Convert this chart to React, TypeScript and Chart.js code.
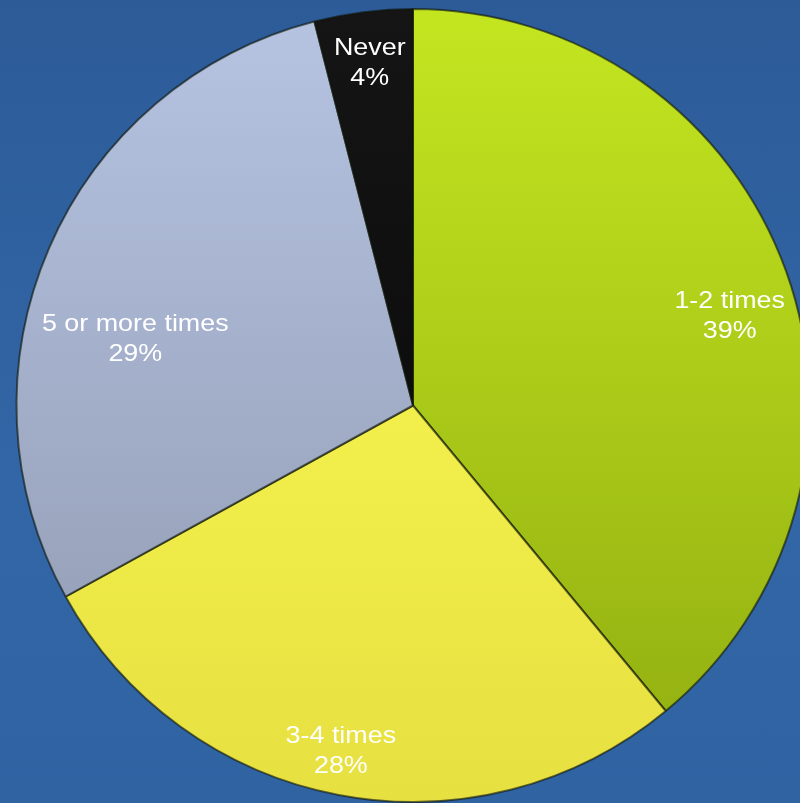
import React, { useEffect, useRef } from "react";
import { Chart, registerables } from "chart.js";

Chart.register(...registerables);

const categories = ["1-2 times", "3-4 times", "5 or more times", "Never"];
const values = [39, 28, 29, 4];
const percentLabels = ["39%", "28%", "29%", "4%"];

const gradStops: [string, string][] = [
  ["#c4e620", "#8fac10"],
  ["#ffff58", "#e6e040"],
  ["#b6c4e2", "#8e97ae"],
  ["#151515", "#050505"],
];
const labelAngleOffsetDeg = [4, 1, -10, 0];
const labelRadiusFrac = [0.83, 0.89, 0.72, 0.87];

const labelPlugin = {
  id: "sliceLabels",
  afterDatasetsDraw(chart: any) {
    const ctx = chart.ctx;
    const meta = chart.getDatasetMeta(0);
    meta.data.forEach((arc: any, i: number) => {
      const p = arc.getProps(["x", "y", "startAngle", "endAngle", "outerRadius"], true);
      const mid = (p.startAngle + p.endAngle) / 2 + (labelAngleOffsetDeg[i] * Math.PI) / 180;
      const r = p.outerRadius * labelRadiusFrac[i];
      const x = p.x + Math.cos(mid) * r;
      const y = p.y + Math.sin(mid) * r;
      ctx.save();
      ctx.translate(x, y);
      ctx.scale(1.12, 1);
      ctx.fillStyle = "#ffffff";
      ctx.textAlign = "center";
      ctx.textBaseline = "middle";
      ctx.font = '24px "Liberation Sans", Arial, sans-serif';
      ctx.fillText(categories[i], 0, -15);
      ctx.fillText(percentLabels[i], 0, 15);
      ctx.restore();
    });
  },
};

export default function App() {
  const ref = useRef<HTMLCanvasElement | null>(null);
  useEffect(() => {
    document.body.style.margin = "0";
    const canvas = ref.current!;
    const chart = new Chart(canvas, {
      type: "pie",
      data: {
        labels: categories,
        datasets: [
          {
            data: values,
            backgroundColor: (c: any) => {
              const ch = c.chart;
              const area = ch.chartArea;
              if (!area) return gradStops[c.dataIndex][0];
              const g = ch.ctx.createLinearGradient(0, area.top, 0, area.bottom);
              g.addColorStop(0, gradStops[c.dataIndex][0]);
              g.addColorStop(1, gradStops[c.dataIndex][1]);
              return g;
            },
            borderColor: "rgba(15,20,5,0.6)",
            borderWidth: 2,
          },
        ],
      },
      options: {
        animation: false,
        responsive: false,
        maintainAspectRatio: false,
        layout: { padding: { top: 8, bottom: 0, left: 0, right: 0 } },
        plugins: {
          legend: { display: false },
          tooltip: { enabled: false },
        },
      },
      plugins: [labelPlugin],
    });
    return () => chart.destroy();
  }, []);
  return (
    <div
      style={{
        position: "fixed",
        left: 0,
        top: 0,
        width: 800,
        height: 803,
        overflow: "hidden",
        background: "linear-gradient(180deg, #2c5b98 0%, #3366a6 60%, #2f63a2 100%)",
      }}
    >
      <canvas
        ref={ref}
        width={826}
        height={803}
        style={{ position: "absolute", left: 0, top: 0, width: 826, height: 803 }}
      />
    </div>
  );
}
